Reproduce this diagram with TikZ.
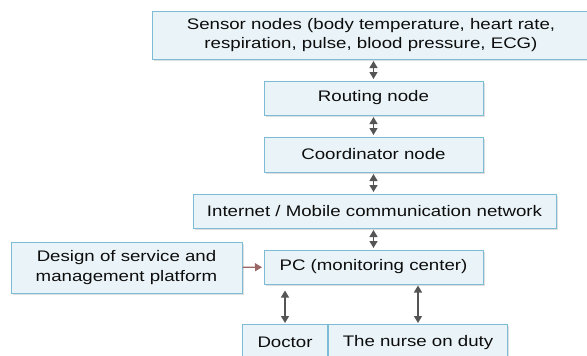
\documentclass[tikz,border=0pt]{standalone}
\usepackage{fontspec}
\setmainfont{Liberation Sans}[FakeStretch=1.22]
\usetikzlibrary{arrows.meta,shadows}
\definecolor{boxfill}{HTML}{EAF4F8}
\definecolor{boxline}{HTML}{7CBDD5}
\definecolor{arrowgray}{HTML}{555555}
\definecolor{arrowred}{HTML}{9A6666}
\tikzset{
  unitbox/.style={draw=boxline, fill=boxfill, line width=1pt, align=center, inner sep=0pt,
    text=black!95, font=\fontsize{15.3}{19.3}\selectfont,
    drop shadow={shadow xshift=1.5pt, shadow yshift=-1.5pt, fill=black!25, opacity=0.5}},
  link/.style={draw=arrowgray, line width=1.4pt,
    {Triangle[length=7pt,width=8pt]}-{Triangle[length=7pt,width=8pt]}},
  feed/.style={draw=arrowred, line width=1.2pt, -{Triangle[length=7pt,width=8pt]}}
}
\begin{document}
\begin{tikzpicture}[x=1pt,y=-1pt]
  \useasboundingbox (0,0) rectangle (587,356);
  \node[unitbox, minimum width=438, minimum height=48] (sensor) at (371,35)
    {Sensor nodes (body temperature, heart rate,\\respiration, pulse, blood pressure, ECG)};
  \node[unitbox, minimum width=219, minimum height=34] (routing) at (373.5,98) {Routing node};
  \node[unitbox, minimum width=219, minimum height=35] (coord) at (373.5,154.5) {Coordinator node};
  \node[unitbox, minimum width=363, minimum height=34] (net) at (374.5,211) {Internet / Mobile communication network};
  \node[unitbox, minimum width=219, minimum height=34] (pc) at (373.5,267) {PC (monitoring center)};
  \node[unitbox, minimum width=231, minimum height=51] (design) at (126.5,267.5)
    {Design of service and\\management platform};
  \node[unitbox, minimum width=85, minimum height=36, anchor=north west] (doctor) at (242,324) {Doctor};
  \node[unitbox, minimum width=179, minimum height=36, anchor=north west] (nurse) at (doctor.north east) {The nurse on duty};

  \draw[link, shorten <=1.5pt, shorten >=1.5pt] (sensor.south -| routing) -- (routing.north);
  \draw[link, shorten <=1.5pt, shorten >=1.5pt] (routing) -- (coord);
  \draw[link, shorten <=1.5pt, shorten >=1.5pt] (coord) -- (coord |- net.north);
  \draw[link, shorten <=1.5pt, shorten >=1.5pt] (coord |- net.south) -- (pc);
  \draw[feed, shorten >=1.5pt] (design) -- (pc);
  \draw[link, shorten <=6pt, shorten >=1pt] (doctor.north |- pc.south) -- (doctor.north);
  \draw[link, shorten <=1pt, shorten >=1pt] (nurse.north |- pc.south) -- (nurse.north);
\end{tikzpicture}
\end{document}
